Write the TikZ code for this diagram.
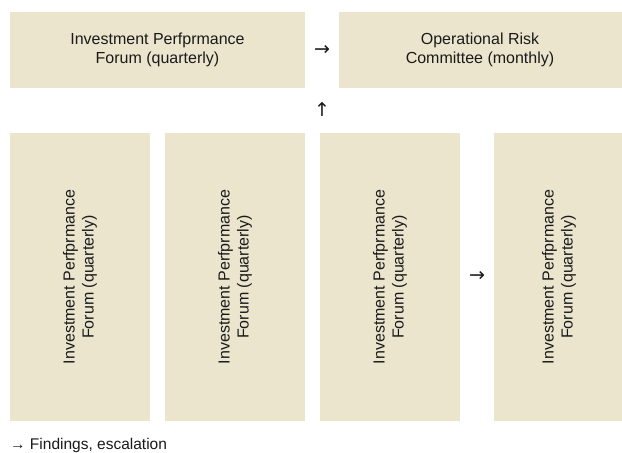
\documentclass[tikz,border=0pt]{standalone}
\usepackage{fontspec}
\setmainfont{Liberation Sans}
\newfontfamily\arrowfont{DejaVu Sans}
\definecolor{boxfill}{HTML}{EBE5CE}
\definecolor{ink}{HTML}{1A1A1A}
\begin{document}
\begin{tikzpicture}[x=1pt,y=-1pt,
  panel/.style={fill=boxfill,draw=none},
  lbl/.style={text=ink,font=\fontsize{16}{19}\selectfont,align=center,inner sep=0pt},
  arr/.style={text=ink,font=\arrowfont\fontsize{19}{19}\selectfont,inner sep=0pt}]
\useasboundingbox (0,0) rectangle (622,453);
\fill[white] (0,0) rectangle (622,453);
% top row
\fill[panel] (10,12) rectangle (305,88);
\fill[panel] (339,12) rectangle (622,88);
\node[lbl] (top1) at (157.5,50) {Investment Perfprmance\\Forum (quarterly)};
\node[lbl] (top2) at (480,50) {Operational Risk\\Committee (monthly)};
\node[arr] (a1) at (322,50) {→};
\node[arr] (a2) at (322,110) {↑};
% bottom row
\fill[panel] (10,133) rectangle (150,421);
\fill[panel] (165,133) rectangle (305,421);
\fill[panel] (320,133) rectangle (460,421);
\fill[panel] (494,133) rectangle (622,421);
\node[lbl,rotate=90] (b1) at (80,277) {Investment Perfprmance\\Forum (quarterly)};
\node[lbl,rotate=90] (b2) at (235,277) {Investment Perfprmance\\Forum (quarterly)};
\node[lbl,rotate=90] (b3) at (390,277) {Investment Perfprmance\\Forum (quarterly)};
\node[lbl,rotate=90] (b4) at (559,277) {Investment Perfprmance\\Forum (quarterly)};
\node[arr] (a3) at (477,276) {→};
% footer
\node[lbl,anchor=west,font=\fontsize{15.5}{16}\selectfont] (legend) at (10,445) {→ Findings, escalation};
\end{tikzpicture}
\end{document}
